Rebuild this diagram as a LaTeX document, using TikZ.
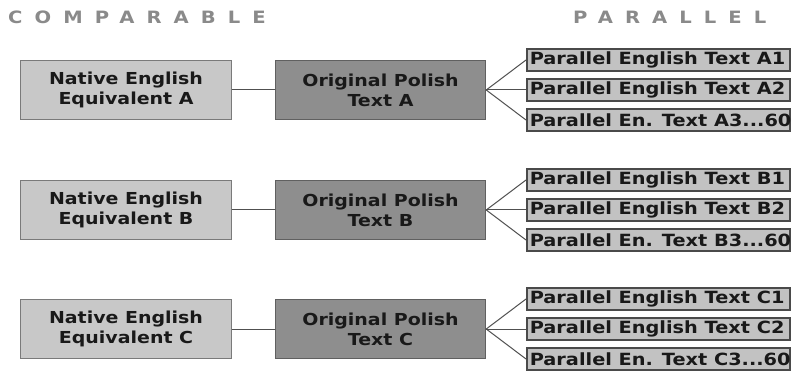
\documentclass[tikz,border=0pt]{standalone}
\usepackage{fontspec}
\setmainfont{DejaVu Sans}
\newfontfamily\titlefont[LetterSpace=71,FakeStretch=1.15]{DejaVu Sans Bold}
\newfontfamily\boxfont[FakeStretch=1.15]{DejaVu Sans Bold}
\newfontfamily\parfont[FakeStretch=1.15]{DejaVu Sans Bold}
\definecolor{lightbox}{HTML}{C8C8C8}
\definecolor{lightedge}{HTML}{7A7A7A}
\definecolor{midbox}{HTML}{8E8E8E}
\definecolor{midedge}{HTML}{606060}
\definecolor{parbox}{HTML}{C2C2C2}
\definecolor{paredge}{HTML}{4A4A4A}
\definecolor{titlegray}{HTML}{8A8A8A}
\definecolor{linegray}{HTML}{505050}
\begin{document}
\begin{tikzpicture}[x=1pt,y=-1pt,
  nativebox/.style={draw=lightedge,fill=lightbox,line width=1.5pt,minimum width=211pt,minimum height=59pt,inner sep=0pt,align=center,font=\boxfont\fontsize{16.5}{20}\selectfont,text=black!90},
  polishbox/.style={draw=midedge,fill=midbox,line width=1.5pt,minimum width=210pt,minimum height=59pt,inner sep=0pt,align=center,font=\boxfont\fontsize{16.5}{20}\selectfont,text=black!90},
  parbox/.style={draw=paredge,fill=parbox,line width=1.5pt,minimum width=263pt,minimum height=22pt,inner sep=0pt,anchor=west,font=\parfont\fontsize{16.8}{18}\selectfont,text=black!90},
  conn/.style={draw=linegray,line width=1pt},
  titlestyle/.style={font=\titlefont\fontsize{17}{18}\selectfont,text=titlegray,inner sep=0pt}]
\useasboundingbox (0,0) rectangle (791,371);
\fill[white] (0,0) rectangle (791,371);
\node[titlestyle,anchor=west] (tc) at (8,17) {COMPARABLE};
\node[titlestyle,anchor=west] (tp) at (573,17) {PARALLEL};
\foreach \L/\yc in {A/90,B/210,C/329}{
  \node[nativebox] (n\L) at (126,\yc) {Native English\\Equivalent \L};
  \node[polishbox] (p\L) at (380.5,\yc) {Original Polish\\Text \L};
  \node[parbox] (r\L1) at (526,\yc-30) {\makebox[261pt][l]{\hspace{2pt}Parallel English Text \L1}};
  \node[parbox] (r\L2) at (526,\yc) {\makebox[261pt][l]{\hspace{2pt}Parallel English Text \L2}};
  \node[parbox] (r\L3) at (526,\yc+30) {\makebox[261pt][l]{\hspace{2pt}Parallel En. Text \L3...60}};
  \draw[conn] (n\L.east) -- (p\L.west);
  \draw[conn] (p\L.east) -- (r\L1.west);
  \draw[conn] (p\L.east) -- (r\L2.west);
  \draw[conn] (p\L.east) -- (r\L3.west);
}
\end{tikzpicture}
\end{document}
